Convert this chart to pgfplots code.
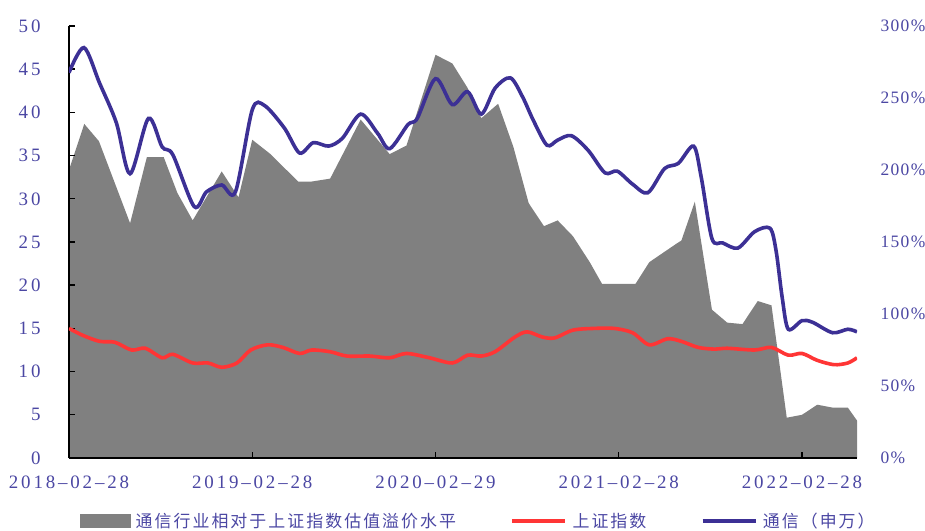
\documentclass[border=0pt]{standalone}
\usepackage{pgfplots}
\pgfplotsset{compat=1.18}
\usetikzlibrary{calc}
\usepackage{fontspec}
\setmainfont{Liberation Serif}
\newfontfamily\tickf[LetterSpace=15]{Liberation Serif}
\newfontfamily\tickr[LetterSpace=8]{Liberation Serif}
\newfontfamily\cjk[LetterSpace=12]{Noto Sans CJK SC}
\definecolor{tickc}{HTML}{4B47A3}
\definecolor{blueL}{HTML}{3C3095}
\definecolor{redL}{HTML}{FF3535}
\definecolor{grayA}{HTML}{808080}
\begin{document}
\begin{tikzpicture}
% ---------- right axis: premium area ----------
\begin{axis}[
  name=axr, scale only axis, width=788bp, height=432bp,
  xmin=0, xmax=51.6, ymin=0, ymax=300,
  axis x line=none, axis y line*=right,
  y axis line style={draw=none},
  ytick={0,50,...,300},
  yticklabels={0\%,50\%,100\%,150\%,200\%,250\%,300\%},
  major tick length=0pt,
  yticklabel style={font=\fontsize{17.5}{17.5}\tickr, text=tickc, anchor=west, xshift=20bp},
  /pgf/number format/assume math mode=true,
]
\addplot[fill=grayA, draw=none] coordinates {
(0,200) (1.0,232) (1.96,220) (4.0,163) (5.1,209) (6.2,209) (7.1,184) (8.1,165)
(10.0,199) (11.1,181) (12.0,221) (13.2,211) (15.0,192) (15.9,192) (17.1,194)
(19.1,235) (21.0,211) (22.1,217) (24.0,280) (25.1,274) (26.1,257) (27.0,236)
(28.1,246) (29.1,216) (30.1,177) (31.1,161) (32.0,165) (33.0,154) (34.1,136)
(34.9,121) (35.9,121) (37.1,121) (38.0,136) (39.8,149) (40.1,151) (40.98,178)
(42.1,103) (43.1,94) (44.1,93) (45.1,109) (46.0,106) (47.0,28) (48.0,30)
(49.0,37) (50.0,35) (51.0,35) (51.6,26)
} \closedcycle;
\end{axis}
% ---------- left axis: PE lines ----------
\begin{axis}[
  name=ax, scale only axis, width=788bp, height=432bp,
  xmin=0, xmax=51.6, ymin=0, ymax=50,
  axis x line=bottom, axis y line=left,
  axis line style={-, line width=1.6bp, black},
  xtick={0,12,24,36,48},
  xticklabels={2018–02–28,2019–02–28,2020–02–29,2021–02–28,2022–02–28},
  ytick={0,5,...,50},
  yticklabels={0,5,10,15,20,25,30,35,40,45,50},
  tick align=inside, major tick length=6bp,
  tick style={line width=1.4bp, black},
  xticklabel style={font=\fontsize{19}{19}\tickf, text=tickc, yshift=-14bp},
  yticklabel style={font=\fontsize{19}{19}\tickf, text=tickc, xshift=-25bp},
  /pgf/number format/assume math mode=true,
  legend columns=3,
  legend style={draw=none, fill=none, at={(0.014,-0.146)}, anchor=west,
    font=\fontsize{17}{17}\cjk, text=tickc, inner sep=0pt,
    /tikz/every even column/.append style={column sep=52bp},
    /tikz/every odd column/.append style={column sep=3bp},
    cells={anchor=west}},
]
\addlegendimage{legend image code/.code={\fill[grayA] (0bp,-6.5bp) rectangle (50bp,6.5bp);}}
\addlegendentry{通信行业相对于上证指数估值溢价水平}
\addplot[redL, line width=3.6bp, smooth, tension=0.5,
  legend image code/.code={\draw[redL, line width=4.5bp] (0bp,0bp) -- (53bp,0bp);}] coordinates {
(0,15.0) (0.9,14.2) (2.0,13.5) (3.0,13.4) (4.1,12.5) (5.0,12.7) (6.1,11.6) (6.8,12.0)
(8.1,11.0) (9.1,11.0) (10.0,10.5) (11.0,11.0) (11.9,12.5) (13.0,13.1) (14.0,12.8)
(15.1,12.1) (15.9,12.5) (17.1,12.3) (18.2,11.8) (19.7,11.8) (21.0,11.6) (22.1,12.1)
(23.6,11.6) (25.1,11.0) (26.1,11.9) (27.0,11.8) (27.9,12.3) (29.2,14.0) (30.0,14.6)
(31.0,14.0) (31.8,13.9) (33.0,14.8) (34.4,15.0) (35.7,15.0) (36.9,14.5) (38.0,13.1)
(39.2,13.8) (40.1,13.5) (41.2,12.8) (42.3,12.6) (43.1,12.7) (44.9,12.5) (46.0,12.8)
(47.1,11.9) (48.0,12.1) (49.0,11.3) (50.1,10.8) (51.0,11.0) (51.6,11.6)
};
\addlegendentry{上证指数}
\addplot[blueL, line width=3.6bp, smooth, tension=0.5,
  legend image code/.code={\draw[blueL, line width=4.5bp] (0bp,0bp) -- (53bp,0bp);}] coordinates {
(0,44.6) (0.98,47.5) (2.0,43.4) (3.1,38.8) (4.0,32.9) (5.2,39.3) (6.1,36.0) (6.8,35.1)
(8.2,29.1) (9.0,30.8) (10.0,31.6) (10.9,30.8) (12.0,40.3) (12.8,40.8) (14.1,38.2)
(15.1,35.3) (16.0,36.5) (17.0,36.1) (17.9,37.0) (19.1,39.8) (20.2,37.6) (21.0,35.8)
(22.2,38.6) (22.8,39.3) (24.0,43.9) (25.1,40.9) (26.1,42.4) (27.0,39.8) (27.9,42.8)
(28.9,44.0) (29.7,41.8) (30.4,39.1) (31.3,36.2) (32.0,36.8) (32.9,37.3) (34.0,35.6)
(35.1,33.0) (35.9,33.2) (36.9,31.7) (37.9,30.7) (39.0,33.5) (39.9,34.1) (40.9,36.1)
(41.4,32.5) (42.1,25.4) (42.8,24.9) (43.8,24.3) (44.9,26.2) (45.9,26.6) (46.3,24.0)
(46.7,18.6) (47.1,14.9) (48.0,15.9) (48.7,15.7) (50.0,14.5) (51.0,14.9) (51.6,14.6)
};
\addlegendentry{通信（申万）}
\end{axis}
\pgfresetboundingbox
\path[use as bounding box] ($(ax.south west)+(-69bp,-73bp)$) rectangle ($(ax.north east)+(68bp,26bp)$);
\end{tikzpicture}
\end{document}
